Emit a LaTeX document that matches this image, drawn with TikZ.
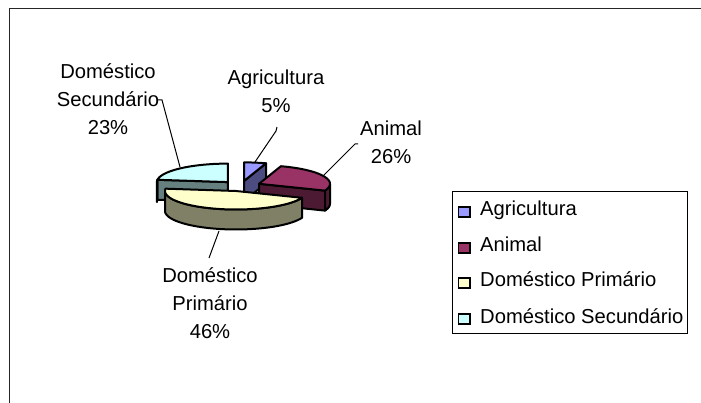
\documentclass[tikz,border=0pt]{standalone}
\usepackage{fontspec}
\setmainfont{Liberation Sans}
\definecolor{agtop}{HTML}{9999FF}
\definecolor{agside}{HTML}{4C4C80}
\definecolor{antop}{HTML}{993366}
\definecolor{anside}{HTML}{4D1A33}
\definecolor{prtop}{HTML}{FFFFCC}
\definecolor{prside}{HTML}{808066}
\definecolor{setop}{HTML}{CCFFFF}
\definecolor{seside}{HTML}{668080}
\begin{document}
\begin{tikzpicture}[x=1pt,y=-1pt,
  lbl/.style={align=center, font=\fontsize{20.2}{28}\selectfont, inner sep=0pt, anchor=base},
  legtext/.style={font=\fontsize{20.2}{24}\selectfont, inner sep=0pt, anchor=base west},
  leader/.style={draw=black, line width=1pt},
  face/.style={draw=black, line width=2pt, line join=round},
  legbox/.style={draw=black, line width=1.2pt},
  swatch/.style={draw=black, line width=1.2pt},
]
\useasboundingbox (0,0) rectangle (701,403);
\def\RX{71}\def\RY{18.5}\def\DP{20}
% frame
\draw[line width=1.6pt, draw=black!85] (9.5,403) -- (9.5,8.5) -- (701,8.5);

% ---------- Agricultura (72..90), apex (244.1,180.9)
\def\ax{244.1}\def\ay{180.9}
\filldraw[face, fill=agside] (\ax,\ay) -- ++({\RX*cos(72)},{-\RY*sin(72)}) -- ++(0,\DP) -- ++({-\RX*cos(72)},{\RY*sin(72)}) -- cycle;
\filldraw[face, fill=agtop] (\ax,\ay) -- plot[domain=72:90,samples=10] ({\ax+\RX*cos(\x)},{\ay-\RY*sin(\x)}) -- cycle;

% ---------- Doméstico Secundário (90..172.8), apex (227.9,182.1)
\def\ax{227.9}\def\ay{182.1}
\filldraw[face, fill=seside] (\ax,\ay) -- ++({\RX*cos(172.8)},{-\RY*sin(172.8)}) -- ++(0,\DP) -- ++({-\RX*cos(172.8)},{\RY*sin(172.8)}) -- cycle;
\filldraw[face, fill=seside] plot[domain=172.8:180,samples=5] ({\ax+\RX*cos(\x)},{\ay-\RY*sin(\x)}) -- plot[domain=180:172.8,samples=5] ({\ax+\RX*cos(\x)},{\ay+\DP-\RY*sin(\x)}) -- cycle;
\filldraw[face, fill=setop] (\ax,\ay) -- plot[domain=90:172.8,samples=30] ({\ax+\RX*cos(\x)},{\ay-\RY*sin(\x)}) -- cycle;

% ---------- Animal (-21.6..72), apex (259,183.8)
\def\ax{259}\def\ay{183.8}
\filldraw[face, fill=anside] (\ax,\ay) -- ++({\RX*cos(-21.6)},{-\RY*sin(-21.6)}) -- ++(0,\DP) -- ++({-\RX*cos(-21.6)},{\RY*sin(-21.6)}) -- cycle;
\filldraw[face, fill=anside] plot[domain=-21.6:0,samples=8] ({\ax+\RX*cos(\x)},{\ay-\RY*sin(\x)}) -- plot[domain=0:-21.6,samples=8] ({\ax+\RX*cos(\x)},{\ay+\DP-\RY*sin(\x)}) -- cycle;
\filldraw[face, fill=antop] (\ax,\ay) -- plot[domain=-21.6:72,samples=30] ({\ax+\RX*cos(\x)},{\ay-\RY*sin(\x)}) -- cycle;

% ---------- Doméstico Primário (172.8..338.4), apex (236,191)
\def\ax{236}\def\ay{191}
\filldraw[face, fill=prside] plot[domain=180:338.4,samples=40] ({\ax+\RX*cos(\x)},{\ay-\RY*sin(\x)}) -- plot[domain=338.4:180,samples=40] ({\ax+\RX*cos(\x)},{\ay+\DP-\RY*sin(\x)}) -- cycle;
\filldraw[face, fill=prtop] (\ax,\ay) -- plot[domain=172.8:338.4,samples=50] ({\ax+\RX*cos(\x)},{\ay-\RY*sin(\x)}) -- cycle;

% ---------- labels (anchor = baseline of the last line)
\node[lbl] (lsec) at (108,135) {Doméstico\\Secundário\\23\%};
\node[lbl] (lagr) at (276,113) {Agricultura\\5\%};
\node[lbl] (lani) at (391,164) {Animal\\26\%};
\node[lbl] (lpri) at (210,338) {Doméstico\\Primário\\46\%};

\coordinate (psec) at (180,167);
\coordinate (pagr) at (255,162);
\coordinate (pani) at (323,176);
\coordinate (ppri) at (219,231);

\draw[leader] (158,100) -- (162,100) -- (psec);
\draw[leader] (277,127) -- (276,131) -- (pagr);
\draw[leader] (358,144) -- (355,144) -- (pani);
\draw[leader] (209,258) -- (ppri);

% ---------- legend
\node[legbox, minimum width=235pt, minimum height=142pt, anchor=north west, inner sep=0pt] (legend) at (452,191) {};
\filldraw[swatch, fill=agtop] (458.5,207) rectangle (470,217);
\node[legtext] (tagr) at (480,216) {Agricultura};
\filldraw[swatch, fill=antop] (458.5,243) rectangle (470,253);
\node[legtext] (tani) at (480,252) {Animal};
\filldraw[swatch, fill=prtop] (458.5,278) rectangle (470,288);
\node[legtext] (tpri) at (480,287) {Doméstico Primário};
\filldraw[swatch, fill=setop] (458.5,314) rectangle (470,324);
\node[legtext] (tsec) at (480,323) {Doméstico Secundário};
\end{tikzpicture}
\end{document}
